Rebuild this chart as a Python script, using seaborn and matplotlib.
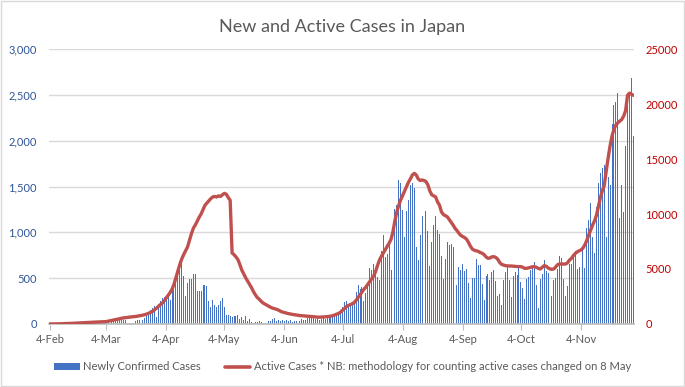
import pandas as pd
import matplotlib
matplotlib.use("Agg")
import matplotlib.pyplot as plt
from matplotlib.lines import Line2D
from matplotlib.patches import Patch, Rectangle
import seaborn as sns

# Daily series, 4 Feb 2020 -> 1 Dec 2020
start_date = "2020-02-04"
end_date = "2020-12-01"

new_feb = [0, 1, 1, 0, 0, 0, 0, 0, 0, 1, 3, 1, 5, 3, 20, 3, 3, 6, 8, 5, 4, 8, 12, 10, 15, 12]
new_mar = [14, 20, 25, 33, 40, 45, 38, 42, 30, 50, 52, 43, 40, 45, 12, 10, 14, 12, 30, 40,
           44, 36, 44, 62, 87, 115, 153, 171, 197, 80, 218]
new_apr = [248, 281, 299, 300, 330, 260, 360, 420, 480, 590, 600, 706, 520, 300, 450,
           485, 495, 550, 550, 355, 360, 360, 420, 425, 410, 245, 190, 260, 210, 185]
new_may = [210, 245, 285, 190, 100, 95, 85, 80, 90, 87, 98, 51, 73, 44, 87, 33, 55, 20, 15, 25,
           20, 30, 25, 15, 10, 20, 30, 35, 55, 60, 35]
new_jun = [40, 35, 45, 30, 40, 35, 45, 25, 35, 30, 40, 35, 50, 45, 40, 60, 70, 80, 70, 55,
           60, 45, 55, 60, 55, 70, 75, 80, 85, 90]
new_jul = [95, 105, 117, 190, 237, 255, 190, 215, 204, 226, 346, 426, 379, 408, 251, 335,
           445, 612, 590, 656, 536, 510, 481, 791, 973, 736, 762, 864, 590, 980, 1258]
new_aug = [1301, 1575, 1538, 1247, 948, 1236, 1356, 1520, 1538, 1484, 838, 700, 973, 1174,
           1356, 1236, 1017, 634, 893, 1083, 1181, 1028, 983, 743, 491, 710, 895, 862, 873,
           841, 604]
new_sep = [426, 626, 590, 655, 582, 597, 451, 288, 506, 506, 710, 644, 644, 437, 262, 524,
           546, 480, 568, 590, 470, 306, 328, 207, 480, 571, 633, 480, 295, 524]
new_oct = [571, 535, 608, 462, 389, 273, 491, 510, 590, 619, 681, 426, 175, 490, 550, 700,
           580, 560, 460, 306, 480, 500, 600, 740, 720, 490, 300, 410, 655, 655, 730]
new_nov = [800, 600, 620, 270, 808, 608, 1052, 1136, 1325, 954, 779, 1281, 1543, 1653, 1700,
           1736, 954, 1609, 1518, 2188, 2391, 2428, 2516, 1152, 1516, 1225, 1941, 2500, 2500,
           2680]
new_dec = [2050]

active_feb = [0, 0, 5, 5, 10, 10, 15, 20, 25, 30, 40, 50, 60, 70, 80, 90, 100, 110, 120, 130,
              140, 150, 155, 160, 170, 175]
active_mar = [180, 195, 200, 210, 250, 290, 330, 370, 400, 430, 470, 520, 550, 570, 590, 610,
              630, 650, 670, 700, 730, 760, 800, 850, 900, 970, 1050, 1150, 1280, 1430, 1600]
active_apr = [1750, 1900, 2100, 2350, 2600, 2850, 3150, 3600, 4200, 4800, 5400, 5900, 6300,
              6650, 7000, 7600, 8200, 8700, 9000, 9350, 9700, 10000, 10400, 10800, 11000,
              11200, 11400, 11550, 11600, 11550]
active_may = [11650, 11600, 11750, 11880, 11800, 11500, 11250, 6450, 6300, 6100, 5850, 5400,
              4900, 4550, 4200, 3900, 3600, 3300, 2950, 2650, 2400, 2250, 2050, 1900, 1800,
              1700, 1600, 1500, 1430, 1380, 1330]
active_jun = [1250, 1150, 1080, 1030, 980, 940, 900, 870, 840, 800, 780, 760, 745, 730, 715,
              700, 680, 660, 650, 635, 620, 610, 620, 630, 640, 660, 680, 710, 750, 820]
active_jul = [900, 960, 1080, 1250, 1400, 1580, 1680, 1760, 1830, 1950, 2150, 2400, 2650,
              2900, 3150, 3350, 3600, 3850, 4100, 4350, 4750, 5300, 5800, 6150, 6450, 6750,
              7050, 7350, 7700, 8400, 9400]
active_aug = [10200, 10800, 11300, 11700, 12100, 12500, 12900, 13200, 13550, 13700, 13550,
              13200, 13050, 13100, 13050, 12950, 12650, 12100, 11750, 11650, 11550, 11100,
              10800, 10200, 9950, 9850, 9750, 9500, 9250, 9000, 8700]
active_sep = [8500, 8250, 8050, 7950, 7850, 7700, 7400, 7050, 6800, 6700, 6650, 6600, 6500,
              6430, 6300, 6100, 5970, 6000, 6100, 6120, 6050, 5900, 5600, 5420, 5360, 5300,
              5280, 5270, 5270, 5250]
active_oct = [5230, 5220, 5210, 5210, 5150, 5050, 5060, 5100, 5150, 5200, 5210, 5150, 5050,
              5000, 5150, 5300, 5250, 5100, 5000, 4970, 5000, 5200, 5400, 5450, 5450, 5450,
              5450, 5550, 5800, 5950, 6200]
active_nov = [6400, 6550, 6650, 6730, 6900, 7200, 7600, 8100, 8550, 9000, 9400, 9900, 10700,
              11500, 12100, 12600, 13900, 15100, 16200, 17100, 17700, 18100, 18300, 18450,
              18600, 18900, 19400, 20800, 21000, 20900]
active_dec = [20800]

tick_dates = ["2020-02-04", "2020-03-04", "2020-04-04", "2020-05-04", "2020-06-04",
              "2020-07-04", "2020-08-04", "2020-09-04", "2020-10-04", "2020-11-04"]

BLUE = "#4472c4"
RED = "#c0504d"
GREY_TEXT = "#595959"
GRID = "#d9d9d9"

new_cases = (new_feb + new_mar + new_apr + new_may + new_jun + new_jul + new_aug + new_sep
             + new_oct + new_nov + new_dec)
active_cases = (active_feb + active_mar + active_apr + active_may + active_jun + active_jul
                + active_aug + active_sep + active_oct + active_nov + active_dec)

dates = pd.date_range(start_date, end_date, freq="D")
df = pd.DataFrame({"date": dates, "new": new_cases, "active": active_cases})
df["day"] = (df["date"] - dates[0]).dt.days

sns.set_theme(style="white")
plt.rcParams["font.family"] = ["Lato", "DejaVu Sans"]

fig = plt.figure(figsize=(6.85, 3.87), dpi=100)
ax = fig.add_axes([0.072, 0.163, 0.854, 0.710])

sns.barplot(data=df, x="day", y="new", native_scale=True, color=BLUE, saturation=1,
            width=0.5, linewidth=0, errorbar=None, ax=ax)
ax.set_ylim(0, 3000)
ax.set_yticks(range(0, 3001, 500))
ax.set_yticklabels([f"{v:,}" for v in range(0, 3001, 500)])
ax.yaxis.grid(True, color=GRID, linewidth=1)
ax.set_axisbelow(True)

tick_pos = [(pd.Timestamp(d) - dates[0]).days for d in tick_dates]
ax.set_xticks(tick_pos)
ax.set_xticklabels([f"{pd.Timestamp(d).day}-{pd.Timestamp(d):%b}" for d in tick_dates])
ax.set_xlim(-0.3, df["day"].max() + 0.5)
ax.set_xlabel("")
ax.set_ylabel("")

for side in ["top", "left", "right"]:
    ax.spines[side].set_visible(False)
ax.spines["bottom"].set_color("#bfbfbf")
ax.tick_params(axis="x", length=4, width=0.8, color="#bfbfbf", labelcolor=GREY_TEXT,
               labelsize=8, pad=3, bottom=True)
ax.tick_params(axis="y", length=0, labelcolor="#2f5597", labelsize=8, pad=9)

ax2 = ax.twinx()
sns.lineplot(data=df, x="day", y="active", color=RED, linewidth=2.4, ax=ax2)
ax2.set_ylim(0, 25000)
ax2.set_yticks(range(0, 25001, 5000))
ax2.set_ylabel("")
ax2.grid(False)
for side in ax2.spines:
    ax2.spines[side].set_visible(False)
ax2.tick_params(axis="y", length=0, labelcolor="#c00000", labelsize=8, pad=8)

fig.text(0.5, 1 - 27 / 387, "New and Active Cases in Japan", ha="center", va="center",
         fontsize=13, color=GREY_TEXT)

handles = [Patch(facecolor=BLUE, edgecolor="none"),
           Line2D([], [], color=RED, linewidth=2.6)]
labels = ["Newly Confirmed Cases",
          "Active Cases * NB: methodology for counting active cases changed on 8 May"]
fig.legend(handles, labels, loc="center", bbox_to_anchor=(0.5, 1 - 367 / 387), ncol=2,
           frameon=False, fontsize=8, labelcolor=GREY_TEXT, handlelength=2.3,
           handletextpad=0.3, columnspacing=2.2, handleheight=0.6)

fig.patches.append(Rectangle((0.001, 0.002), 0.997, 0.995, transform=fig.transFigure,
                             fill=False, edgecolor=GRID, linewidth=1))

fig.savefig("out.png", dpi=100)
plt.close(fig)
